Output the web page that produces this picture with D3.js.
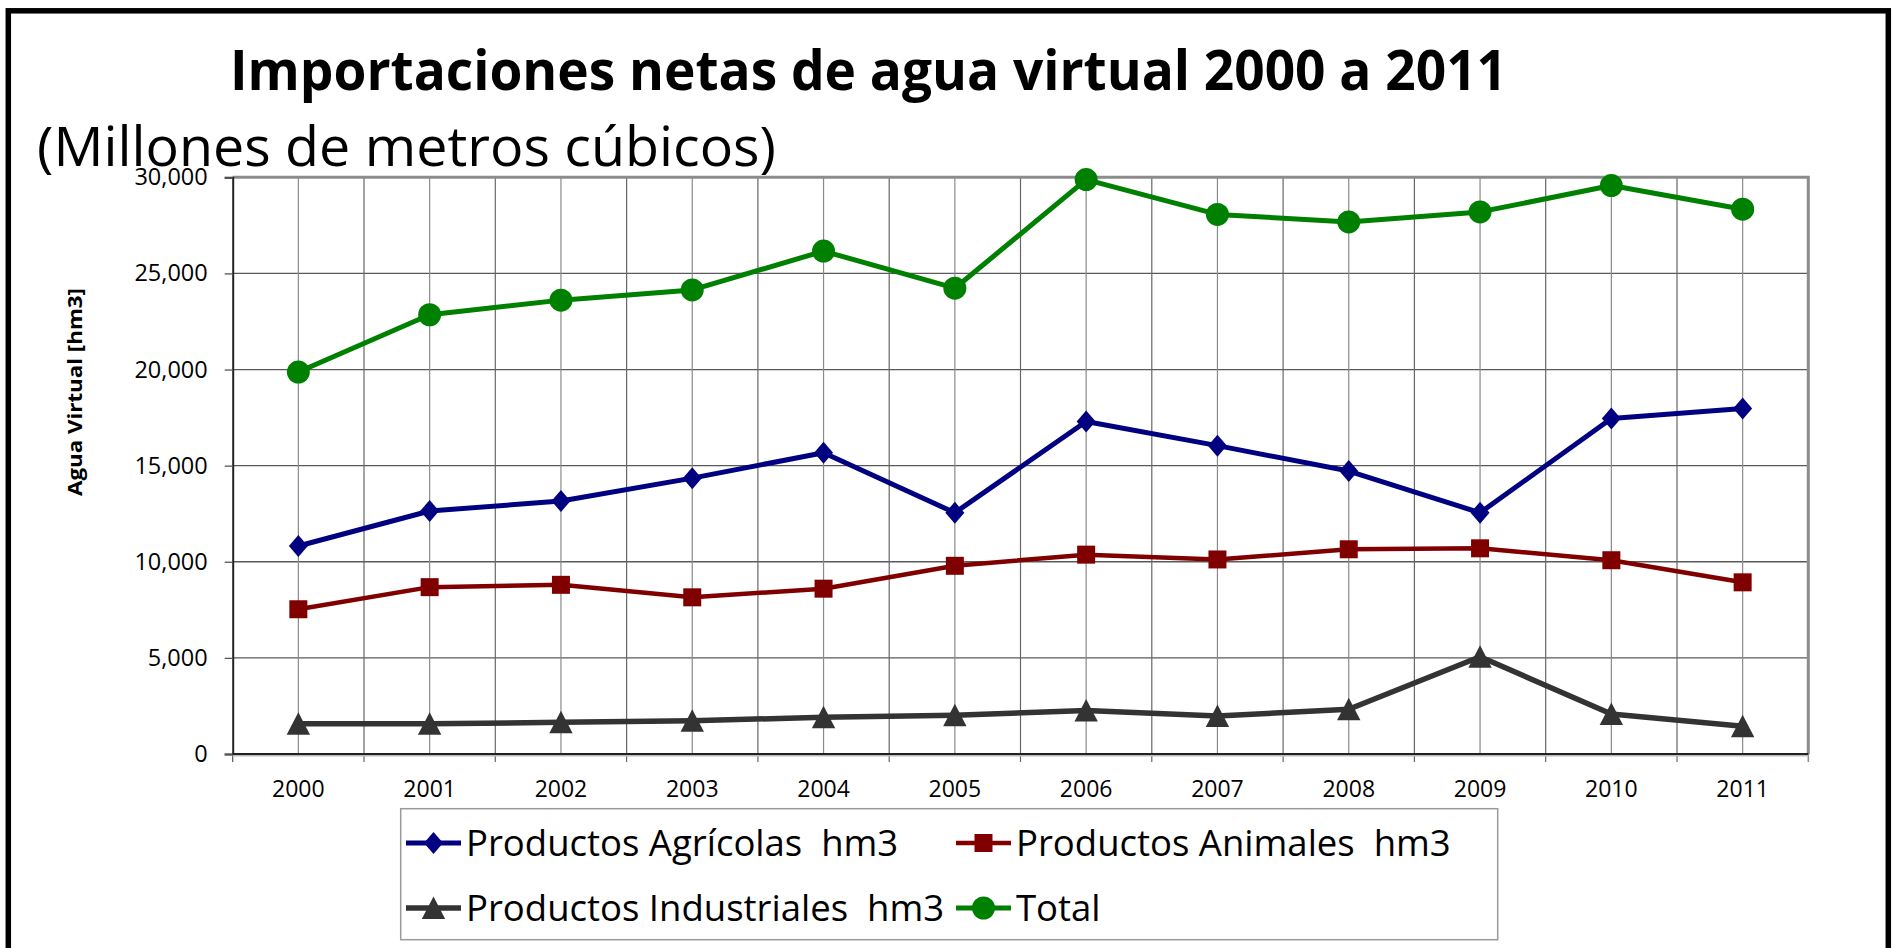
<!DOCTYPE html>
<html>
<head>
<meta charset="utf-8">
<script src="https://cdnjs.cloudflare.com/ajax/libs/d3/7.8.5/d3.min.js"></script>
<style>
  body { margin: 0; background: #fff; }
  text { font-family: "Open Sans", sans-serif; fill: #000; }
  .legend text { white-space: pre; }
</style>
</head>
<body>
<svg id="chart" width="1895" height="948"></svg>
<script>
// data (hm3)
const years = ["2000","2001","2002","2003","2004","2005","2006","2007","2008","2009","2010","2011"];
const agricolas    = [10820, 12640, 13160, 14350, 15670, 12550, 17300, 16040, 14720, 12550, 17450, 17970];
const animales     = [7530, 8680, 8800, 8150, 8600, 9790, 10370, 10120, 10650, 10700, 10080, 8930];
const industriales = [1570, 1570, 1650, 1730, 1910, 2020, 2260, 1980, 2330, 5060, 2080, 1440];
const total        = [19870, 22850, 23610, 24140, 26160, 24230, 29880, 28070, 27680, 28200, 29570, 28340];
const yTicks = [0, 5000, 10000, 15000, 20000, 25000, 30000];
const seriesNames = ["Productos Agrícolas  hm3", "Productos Animales  hm3", "Productos Industriales  hm3", "Total"];

const series = [
  { name: seriesNames[0], values: agricolas,    color: "#000080", shape: "diamond",  width: 5 },
  { name: seriesNames[1], values: animales,     color: "#800000", shape: "square",   width: 4.5 },
  { name: seriesNames[2], values: industriales, color: "#333333", shape: "triangle", width: 5.5 },
  { name: seriesNames[3], values: total,        color: "#008000", shape: "circle",   width: 5 }
];

const svg = d3.select("#chart");
const plotLeft = 232.7, plotRight = 1808.3, plotTop = 177.3, plotBottom = 754;

var x = d3.scaleBand().domain(years).range([plotLeft, plotRight]).padding(0);
var y = d3.scaleLinear().domain([0, 30000]).range([plotBottom, plotTop]);
const cx = function(d) { return x(d) + x.bandwidth() / 2; };

// outer frame
svg.append("rect")
   .attr("x", 8.3).attr("y", 10.8).attr("width", 1880).attr("height", 1000)
   .attr("fill", "none").attr("stroke", "#000").attr("stroke-width", 5.5);

// title + subtitle
svg.append("text")
   .attr("x", 230).attr("y", 90)
   .attr("textLength", 1277).attr("lengthAdjust", "spacingAndGlyphs")
   .style("font-size", "55px").style("font-weight", "bold")
   .text("Importaciones netas de agua virtual 2000 a 2011");

svg.append("text")
   .attr("x", 37).attr("y", 165.7)
   .attr("textLength", 739).attr("lengthAdjust", "spacingAndGlyphs")
   .style("font-size", "54px")
   .text("(Millones de metros cúbicos)");

// gridlines
const grid = svg.append("g");
grid.selectAll("line.h").data(yTicks.filter(function(d){ return d > 0 && d < 30000; }))
   .enter().append("line")
   .attr("x1", plotLeft).attr("x2", plotRight)
   .attr("y1", function(d){ return y(d); }).attr("y2", function(d){ return y(d); })
   .attr("stroke", "#5a5a5a").attr("stroke-width", 1.3);

const bounds = years.slice(1).map(function(d){ return x(d); });
grid.selectAll("line.vb").data(bounds).enter().append("line")
   .attr("x1", function(d){ return d; }).attr("x2", function(d){ return d; })
   .attr("y1", plotTop).attr("y2", plotBottom + 8)
   .attr("stroke", "#666").attr("stroke-width", 1.2);

grid.selectAll("line.vc").data(years).enter().append("line")
   .attr("x1", cx).attr("x2", cx)
   .attr("y1", plotTop).attr("y2", plotBottom)
   .attr("stroke", "#8a8a8a").attr("stroke-width", 1.2);

// plot border (top / right gray)
svg.append("path")
   .attr("d", "M" + plotLeft + "," + plotTop + "H" + plotRight + "V" + plotBottom)
   .attr("fill", "none").attr("stroke", "#8c8c8c").attr("stroke-width", 3);
svg.append("line")
   .attr("x1", plotRight).attr("x2", plotRight).attr("y1", plotBottom).attr("y2", plotBottom + 8)
   .attr("stroke", "#8c8c8c").attr("stroke-width", 1.5);
svg.append("line")
   .attr("x1", plotLeft).attr("x2", plotLeft).attr("y1", plotBottom).attr("y2", plotBottom + 8)
   .attr("stroke", "#555").attr("stroke-width", 1.2);

// y axis
svg.append("g").attr("class", "y axis")
   .attr("transform", "translate(" + plotLeft + ",0)")
   .call(d3.axisLeft(y).tickValues(yTicks).tickSize(8).tickPadding(17).tickFormat(d3.format(",")))
   .call(function(g){ g.select(".domain").attr("stroke", "#222").attr("stroke-width", 2); })
   .call(function(g){ g.selectAll(".tick line").attr("stroke", "#555").attr("stroke-width", 1.3); })
   .call(function(g){ g.selectAll(".tick text").style("font-family", "Open Sans").style("font-size", "23.5px").attr("fill", "#000"); });

// x axis line + labels
svg.append("line")
   .attr("x1", plotLeft).attr("x2", plotRight).attr("y1", plotBottom + 1.5).attr("y2", plotBottom + 1.5)
   .attr("stroke", "#bbb").attr("stroke-width", 2);
svg.append("line")
   .attr("x1", plotLeft).attr("x2", plotRight).attr("y1", plotBottom).attr("y2", plotBottom)
   .attr("stroke", "#222").attr("stroke-width", 2);

svg.append("g").selectAll("text").data(years).enter().append("text")
   .attr("x", cx).attr("y", 796.7)
   .attr("text-anchor", "middle")
   .style("font-size", "23px")
   .text(function(d){ return d; });

// y axis title
svg.append("text")
   .attr("transform", "translate(75,392) rotate(-90)")
   .attr("text-anchor", "middle").attr("dominant-baseline", "central")
   .attr("textLength", 208).attr("lengthAdjust", "spacingAndGlyphs")
   .style("font-size", "19px").style("font-weight", "bold")
   .text("Agua Virtual [hm3]");

// marker shapes
function shapePath(shape) {
  if (shape === "diamond") return "M0,-11L9.5,0L0,11L-9.5,0Z";
  if (shape === "square") return "M-9,-9H9V9H-9Z";
  if (shape === "triangle") return "M0,-11.5L11.7,11L-11.7,11Z";
  return d3.symbol().type(d3.symbolCircle).size(Math.PI * 11.5 * 11.5)();
}

var line = d3.line()
   .x(function(d, i) { return cx(years[i]); })
   .y(function(d) { return y(d); });

series.forEach(function(s) {
  const g = svg.append("g");
  g.append("path")
     .datum(s.values)
     .attr("d", line)
     .attr("fill", "none").attr("stroke", s.color).attr("stroke-width", s.width)
     .attr("stroke-linejoin", "round");
  g.selectAll("path.m").data(s.values).enter().append("path")
     .attr("d", shapePath(s.shape))
     .attr("transform", function(d, i) { return "translate(" + cx(years[i]) + "," + y(d) + ")"; })
     .attr("fill", s.color);
});

// legend
const legend = svg.append("g").attr("class", "legend");
legend.append("rect")
   .attr("x", 400.7).attr("y", 808.7).attr("width", 1097).attr("height", 131)
   .attr("fill", "#fff").attr("stroke", "#9a9a9a").attr("stroke-width", 1.5);

const legendPos = [
  { x: 406, y: 843 }, { x: 956, y: 843 },
  { x: 406, y: 908 }, { x: 956, y: 908 }
];
series.forEach(function(s, i) {
  const p = legendPos[i];
  const g = legend.append("g").attr("transform", "translate(" + p.x + "," + p.y + ")");
  g.append("line").attr("x1", 0).attr("x2", 55).attr("y1", 0).attr("y2", 0)
     .attr("stroke", s.color).attr("stroke-width", s.width);
  g.append("path").attr("d", shapePath(s.shape))
     .attr("transform", "translate(27.5,0)").attr("fill", s.color);
  g.append("text").attr("x", 60).attr("y", 12.7)
     .attr("xml:space", "preserve")
     .style("font-size", "36.5px")
     .text(s.name);
});
</script>
</body>
</html>
